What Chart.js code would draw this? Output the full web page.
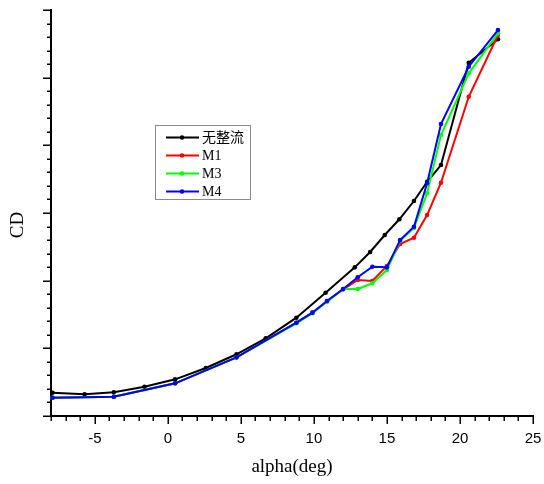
<!DOCTYPE html>
<html>
<head>
<meta charset="utf-8">
<script src="https://cdn.jsdelivr.net/npm/chart.js@4/dist/chart.umd.min.js"></script>
<style>
html,body{margin:0;padding:0;background:#fff;}
#c{display:block;}
</style>
</head>
<body>
<canvas id="c" width="544" height="484"></canvas>
<script>
// ---- data (y in axis units, major tick = 1) ----
const seriesNames = ["无整流", "M1", "M3", "M4"];
const seriesColors = ["#000000", "#ff0000", "#00ff00", "#0000ff"];

const alphaBase = [-7.9, -5.7, -3.7, -1.6, 0.5, 2.6, 4.7, 6.7, 8.8, 10.8, 12.8, 13.85, 14.85, 15.85, 16.85, 17.75, 18.7, 20.6, 22.6];
const cdBase    = [0.344, 0.321, 0.350, 0.433, 0.542, 0.710, 0.912, 1.148, 1.453, 1.822, 2.197, 2.424, 2.675, 2.907, 3.177, 3.462, 3.709, 5.221, 5.567];

const alphaM = [-7.9, -3.7, 0.5, 4.7, 8.8, 9.9, 10.9, 12.0, 13.0, 14.0, 15.0, 15.9, 16.85, 17.75, 18.7, 20.6, 22.6];
const cdM1 = [0.270, 0.285, 0.483, 0.867, 1.379, 1.527, 1.700, 1.872, 2.010, 1.995, 2.217, 2.542, 2.635, 2.970, 3.448, 4.718, 5.630];
const cdM3 = [0.270, 0.285, 0.483, 0.867, 1.370, 1.520, 1.690, 1.877, 1.877, 1.961, 2.157, 2.590, 2.778, 3.291, 4.152, 5.064, 5.655];
const cdM4 = [0.270, 0.285, 0.483, 0.867, 1.379, 1.527, 1.700, 1.877, 2.050, 2.206, 2.197, 2.601, 2.797, 3.439, 4.315, 5.162, 5.704];

const xMin = -8, xMax = 25, xMajor = 5, xMinor = 1;
const yMin = 0, yMax = 6, yMajor = 1, yMinor = 0.2;
const xTitle = "alpha(deg)";
const yTitle = "CD";

function pts(xs, ys){ return xs.map((x,i)=>({x:x, y:ys[i]})); }

const seriesData = [pts(alphaBase, cdBase), pts(alphaM, cdM1), pts(alphaM, cdM3), pts(alphaM, cdM4)];
const drawOrder = [3, 2, 1, 0];

const datasets = seriesData.map((d,i)=>({
  label: seriesNames[i],
  data: d,
  showLine: true,
  borderColor: seriesColors[i],
  backgroundColor: seriesColors[i],
  borderWidth: 2,
  pointRadius: 2.3,
  pointBorderWidth: 0,
  pointHoverRadius: 2.3,
  tension: 0,
  clip: false,
  order: drawOrder[i]
}));

const decorPlugin = {
  id: 'decor',
  afterDraw(chart){
    const ctx = chart.ctx;
    const xs = chart.scales.x, ys = chart.scales.y;
    const a = chart.chartArea;
    ctx.save();
    ctx.strokeStyle = '#000';
    ctx.lineWidth = 1.5;
    // x ticks
    for (let v = xMin; v <= xMax + 1e-9; v += xMinor){
      const major = Math.abs(v % xMajor) < 1e-9;
      const px = Math.round(xs.getPixelForValue(v)) + 0.25;
      ctx.beginPath();
      ctx.moveTo(px, a.bottom);
      ctx.lineTo(px, a.bottom + (major ? 8 : 5));
      ctx.stroke();
    }
    // y ticks
    const n = Math.round((yMax - yMin)/yMinor);
    for (let k = 0; k <= n; k++){
      const v = yMin + k*yMinor;
      const major = k % Math.round(yMajor/yMinor) === 0;
      const py = Math.round(ys.getPixelForValue(v)) + 0.25;
      ctx.beginPath();
      ctx.moveTo(a.left, py);
      ctx.lineTo(a.left - (major ? 8 : 4), py);
      ctx.stroke();
    }
    // axis titles
    ctx.fillStyle = '#000';
    ctx.font = '19px "Liberation Serif", "Times New Roman", serif';
    ctx.textAlign = 'center';
    ctx.textBaseline = 'middle';
    ctx.fillText(xTitle, 292, 467);
    ctx.save();
    ctx.translate(18, 225);
    ctx.rotate(-Math.PI/2);
    ctx.fillText(yTitle, 0, 0);
    ctx.restore();
    // legend
    ctx.strokeStyle = '#8a8a8a';
    ctx.lineWidth = 1;
    ctx.strokeRect(155.5, 125.5, 95, 74);
    const rows = [137.5, 155.5, 173.5, 191.5];
    ctx.font = '14px "Liberation Serif", "Noto Sans CJK SC", serif';
    ctx.textAlign = 'left';
    rows.forEach((ry,i)=>{
      ctx.strokeStyle = seriesColors[i];
      ctx.lineWidth = 2;
      ctx.beginPath();
      ctx.moveTo(166, ry);
      ctx.lineTo(199, ry);
      ctx.stroke();
      ctx.fillStyle = seriesColors[i];
      ctx.beginPath();
      ctx.arc(182, ry, 2.3, 0, Math.PI*2);
      ctx.fill();
      ctx.fillStyle = '#000';
      ctx.fillText(seriesNames[i], 202, ry + 0.5);
    });
    ctx.restore();
  }
};

new Chart(document.getElementById('c'), {
  type: 'scatter',
  data: { datasets: datasets },
  options: {
    responsive: false,
    animation: false,
    devicePixelRatio: 1,
    layout: { padding: { top: 10, right: 11, left: 0, bottom: 0 } },
    plugins: { legend: { display: false }, tooltip: { enabled: false } },
    scales: {
      x: {
        type: 'linear', min: xMin, max: xMax,
        grid: { display: false },
        border: { display: true, color: '#000', width: 2 },
        ticks: {
          stepSize: xMajor,
          padding: 6,
          color: '#000',
          font: { family: '"Liberation Sans", Arial, sans-serif', size: 15 },
          callback: (v)=> (v % xMajor === 0 ? String(v) : '')
        },
        afterFit(s){ s.height = 68; s.paddingLeft = 0; s.paddingRight = 0; }
      },
      y: {
        type: 'linear', min: yMin, max: yMax,
        grid: { display: false },
        border: { display: true, color: '#000', width: 2 },
        ticks: { display: false, stepSize: yMajor },
        afterFit(s){ s.width = 51; s.paddingTop = 0; s.paddingBottom = 0; }
      }
    }
  },
  plugins: [decorPlugin]
});
</script>
</body>
</html>
